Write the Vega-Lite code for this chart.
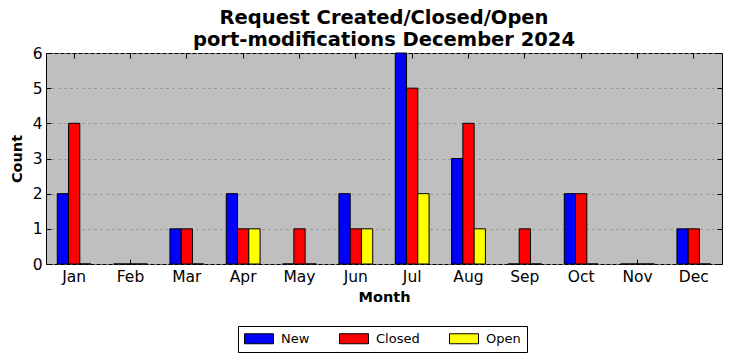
{
  "$schema": "https://vega.github.io/schema/vega-lite/v6.json",
  "autosize": {"type": "none"},
  "padding": {"left": 46, "top": 53, "right": 10, "bottom": 97},
  "width": 676,
  "height": 211,
  "background": "white",
  "title": {
    "text": ["Request Created/Closed/Open", "port-modifications December 2024"],
    "font": "DejaVu Sans",
    "fontSize": 19.5,
    "fontWeight": "bold",
    "color": "black",
    "anchor": "middle",
    "lineHeight": 22,
    "offset": -4
  },
  "config": {
    "view": {"fill": "#bfbfbf", "stroke": "black", "strokeWidth": 1},
    "axis": {
      "labelFont": "DejaVu Sans",
      "titleFont": "DejaVu Sans",
      "labelColor": "black",
      "titleColor": "black",
      "tickColor": "black",
      "domain": false
    }
  },
  "data": {
    "values": [
      {"month": "Jan", "status": "New", "count": 2},
      {"month": "Jan", "status": "Closed", "count": 4},
      {"month": "Jan", "status": "Open", "count": 0},
      {"month": "Feb", "status": "New", "count": 0},
      {"month": "Feb", "status": "Closed", "count": 0},
      {"month": "Feb", "status": "Open", "count": 0},
      {"month": "Mar", "status": "New", "count": 1},
      {"month": "Mar", "status": "Closed", "count": 1},
      {"month": "Mar", "status": "Open", "count": 0},
      {"month": "Apr", "status": "New", "count": 2},
      {"month": "Apr", "status": "Closed", "count": 1},
      {"month": "Apr", "status": "Open", "count": 1},
      {"month": "May", "status": "New", "count": 0},
      {"month": "May", "status": "Closed", "count": 1},
      {"month": "May", "status": "Open", "count": 0},
      {"month": "Jun", "status": "New", "count": 2},
      {"month": "Jun", "status": "Closed", "count": 1},
      {"month": "Jun", "status": "Open", "count": 1},
      {"month": "Jul", "status": "New", "count": 6},
      {"month": "Jul", "status": "Closed", "count": 5},
      {"month": "Jul", "status": "Open", "count": 2},
      {"month": "Aug", "status": "New", "count": 3},
      {"month": "Aug", "status": "Closed", "count": 4},
      {"month": "Aug", "status": "Open", "count": 1},
      {"month": "Sep", "status": "New", "count": 0},
      {"month": "Sep", "status": "Closed", "count": 1},
      {"month": "Sep", "status": "Open", "count": 0},
      {"month": "Oct", "status": "New", "count": 2},
      {"month": "Oct", "status": "Closed", "count": 2},
      {"month": "Oct", "status": "Open", "count": 0},
      {"month": "Nov", "status": "New", "count": 0},
      {"month": "Nov", "status": "Closed", "count": 0},
      {"month": "Nov", "status": "Open", "count": 0},
      {"month": "Dec", "status": "New", "count": 1},
      {"month": "Dec", "status": "Closed", "count": 1},
      {"month": "Dec", "status": "Open", "count": 0}
    ]
  },
  "layer": [
    {
      "mark": {"type": "bar", "stroke": "black", "strokeWidth": 1, "opacity": 1},
      "encoding": {
        "x": {
          "field": "month", "type": "nominal",
          "sort": ["Jan","Feb","Mar","Apr","May","Jun","Jul","Aug","Sep","Oct","Nov","Dec"],
          "scale": {"paddingInner": 0.4, "paddingOuter": 0.2},
          "axis": {
            "orient": "bottom",
            "title": "Month",
            "titleFontSize": 14.5,
            "titleFontWeight": "bold",
            "titlePadding": 6,
            "labelFontSize": 15.5,
            "labelAngle": 0,
            "tickSize": -5,
            "labelPadding": 10,
            "grid": false
          }
        },
        "xOffset": {"field": "status", "type": "nominal", "sort": ["New","Closed","Open"], "scale": {"paddingInner": 0, "paddingOuter": 0}},
        "y": {
          "field": "count", "type": "quantitative",
          "scale": {"domain": [0, 6], "nice": false},
          "axis": {
            "orient": "left",
            "title": "Count",
            "titleFontSize": 14.5,
            "titleFontWeight": "bold",
            "titlePadding": 8,
            "labelFontSize": 15.5,
            "values": [0,1,2,3,4,5,6],
            "tickSize": -5,
            "labelPadding": 9,
            "grid": true,
            "gridColor": "#8c8c8c",
            "gridDash": [2, 4],
            "gridWidth": 1
          }
        },
        "color": {
          "field": "status", "type": "nominal",
          "sort": ["New","Closed","Open"],
          "scale": {"domain": ["New","Closed","Open"], "range": ["#0000ff","#ff0000","#ffff00"]},
          "legend": {
            "title": null,
            "orient": "none",
            "legendX": 192,
            "legendY": 273,
            "direction": "horizontal",
            "columns": 3,
            "columnPadding": 27,
            "symbolType": "M-2.9,-1H2.9V1H-2.9Z",
            "symbolSize": 100,
            "symbolOffset": 8.5,
            "symbolStrokeColor": "black",
            "symbolStrokeWidth": 1,
            "symbolOpacity": 1,
            "labelFont": "DejaVu Sans",
            "labelFontSize": 13,
            "labelColor": "black",
            "labelOffset": 15.5,
            "padding": 6,
            "strokeColor": "black",
            "fillColor": "white",
            "cornerRadius": 0
          }
        }
      }
    },
    {
      "mark": {"type": "bar", "opacity": 0},
      "encoding": {
        "x": {
          "field": "month", "type": "nominal",
          "sort": ["Jan","Feb","Mar","Apr","May","Jun","Jul","Aug","Sep","Oct","Nov","Dec"],
          "axis": {"orient": "top", "title": null, "labels": false, "tickSize": -5, "grid": false}
        },
        "xOffset": {"field": "status", "type": "nominal", "sort": ["New","Closed","Open"]},
        "y": {
          "field": "count", "type": "quantitative",
          "axis": {"orient": "right", "title": null, "labels": false, "values": [0,1,2,3,4,5,6], "tickSize": -5, "grid": false}
        }
      }
    }
  ],
  "resolve": {"axis": {"x": "independent", "y": "independent"}}
}
